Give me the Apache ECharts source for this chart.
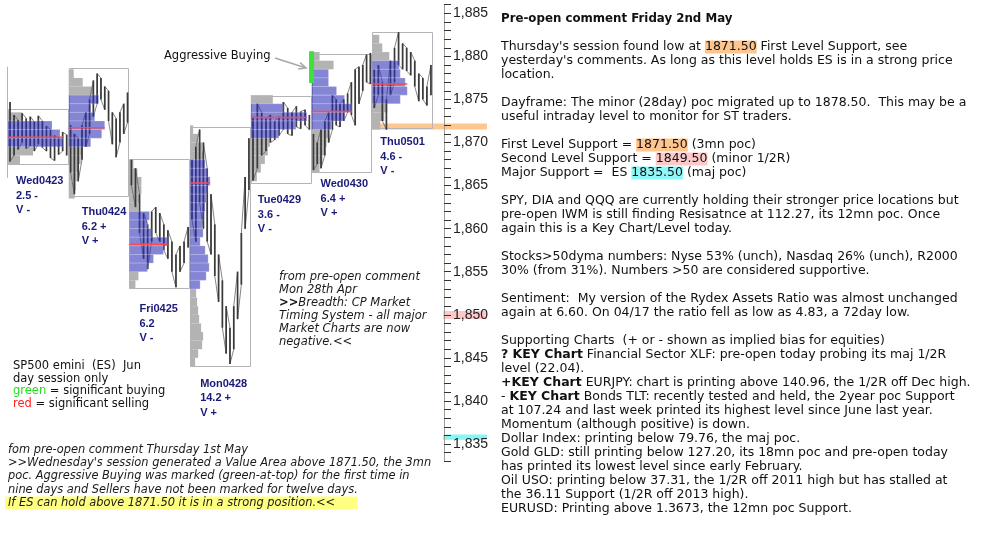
<!DOCTYPE html>
<html><head><meta charset="utf-8">
<script src="https://cdn.jsdelivr.net/npm/echarts@6/dist/echarts.min.js"></script>
<style>html,body{margin:0;padding:0;background:#fff}#c{width:984px;height:534px}</style>
</head><body><div id="c"></div>
<script>
// ---------------- DATA ----------------
const dayNames  = ['Wed0423','Thu0424','Fri0425','Mon0428','Tue0429','Wed0430','Thu0501'];
const dayRange  = ['2.5 -','6.2 +','6.2','14.2 +','3.6 -','6.4 +','4.6 -'];
const dayVol    = ['V -','V +','V -','V +','V -','V +','V -'];
const boxHigh   = [1873.9, 1878.6, 1868.1, 1871.8, 1875.4, 1880.3, 1882.8];
const boxLow    = [1867.5, 1863.8, 1853.1, 1844.1, 1865.3, 1866.6, 1871.7];
const prevDayHigh = 1878.8, prevDayLow = 1865.9;
const vaHigh    = [1872.5, 1875.5, 1861.6, 1867.6, 1874.1, 1878.0, 1879.6];
const vaLow     = [1869.5, 1869.5, 1855.2, 1853.4, 1870.7, 1871.7, 1874.9];
const pocPrice  = [1870.6, 1871.7, 1858.2, 1865.3, 1872.9, 1873.6, 1876.8];
const profTop   = [1873.5, 1878.5, 1868.0, 1872.0, 1875.5, 1880.5, 1882.5];
const profWidths = [
  [14, 44, 52, 55, 25, 12],
  [5, 14, 24, 30, 22, 26, 36, 33, 22, 14, 12, 10, 8, 7, 6],
  [4, 8, 12, 12, 10, 9, 20, 18, 22, 38, 34, 24, 18, 9, 6],
  [3, 8, 12, 14, 15, 17, 20, 17, 16, 15, 14, 12, 13, 10, 15, 18, 19, 16, 10, 6, 7, 8, 9, 11, 13, 12, 8, 5],
  [22, 32, 56, 45, 28, 19, 17, 14, 10, 6],
  [8, 22, 17, 17, 25, 33, 40, 33, 20, 17, 15, 13, 11, 8],
  [7, 10, 17, 27, 28, 33, 35, 28, 15, 12, 8]
];
const priceBars = [
  [[1874.7,1867.8],[1873.2,1868.5],[1872.6,1869.2],[1873.4,1870.0],[1872.8,1869.3],[1873.0,1869.6],[1872.4,1869.0],[1873.1,1869.8],[1872.5,1869.4],[1871.9,1869.0],[1871.5,1868.2],[1870.8,1867.9],[1870.5,1868.6],[1871.2,1869.0],[1870.9,1868.5]],
  [[1872.0,1866.5],[1871.0,1864.0],[1870.5,1865.5],[1872.0,1868.0],[1873.5,1869.5],[1875.0,1871.0],[1877.2,1873.0],[1878.0,1874.5],[1877.5,1875.0],[1876.5,1873.8],[1876.0,1872.5],[1873.5,1869.8],[1872.8,1868.3],[1873.5,1870.0],[1874.5,1871.0],[1875.8,1872.3]],
  [[1868.0,1865.0],[1867.0,1862.5],[1864.0,1859.5],[1861.8,1856.5],[1860.5,1855.3],[1862.0,1858.5],[1862.5,1859.5],[1861.8,1858.5],[1860.5,1857.5],[1859.8,1856.5],[1858.5,1855.0],[1857.0,1853.2],[1858.0,1855.0],[1858.5,1856.0],[1860.2,1857.8]],
  [[1868.0,1861.0],[1869.5,1858.5],[1871.5,1863.0],[1870.0,1860.0],[1867.0,1858.5],[1864.0,1857.0],[1860.5,1854.5],[1857.0,1851.5],[1854.0,1848.5],[1851.0,1845.5],[1848.5,1844.3],[1851.0,1846.0],[1855.0,1849.5],[1859.5,1853.5],[1866.0,1860.0],[1870.5,1864.5]],
  [[1873.0,1865.6],[1874.5,1867.0],[1873.5,1868.5],[1872.8,1869.0],[1873.2,1870.0],[1872.5,1870.3],[1873.0,1870.8],[1874.7,1871.5],[1874.0,1871.0],[1873.5,1870.8],[1874.2,1871.8],[1873.6,1871.6],[1873.8,1872.0],[1873.2,1871.5]],
  [[1871.0,1866.8],[1870.0,1867.5],[1871.5,1867.0],[1872.5,1868.5],[1873.5,1870.0],[1875.5,1871.5],[1875.0,1872.0],[1874.5,1871.8],[1875.0,1872.5],[1875.7,1873.5],[1877.0,1873.2],[1878.5,1872.0],[1878.8,1874.5],[1879.0,1876.0],[1880.2,1877.0],[1880.4,1876.8]],
  [[1878.5,1874.0],[1879.0,1875.5],[1877.0,1872.5],[1875.0,1871.5],[1879.5,1875.5],[1881.0,1877.0],[1882.8,1879.0],[1881.5,1878.5],[1881.0,1878.3],[1880.5,1877.8],[1879.5,1876.5],[1878.0,1874.8],[1877.5,1875.0],[1876.5,1874.3],[1879.0,1875.5]]
];
const aggressiveBuying = [[5, 1880.6, 1876.9]];       // [day index, high, low]
const supportLow  = [1871.5, 1849.5, 1835.5];
const supportHigh = [1872.2, 1850.45, 1836.1];
const yMin = 1833, yMax = 1886, yInterval = 1, yLabelStep = 5;

const rightTitle = 'Pre-open comment Friday 2nd May';
const rightText = [
"Thursday's session found low at {o|1871.50} First Level Support, see",
"yesterday's comments. As long as this level holds ES is in a strong price",
"location.",
"",
"Dayframe: The minor (28day) poc migrated up to 1878.50.  This may be a",
"useful intraday level to monitor for ST traders.",
"",
"First Level Support = {o|1871.50} (3mn poc)",
"Second Level Support = {p|1849.50} (minor 1/2R)",
"Major Support =  ES {c|1835.50} (maj poc)",
"",
"SPY, DIA and QQQ are currently holding their stronger price locations but",
"pre-open IWM is still finding Resisatnce at 112.27, its 12mn poc. Once",
"again this is a Key Chart/Level today.",
"",
"Stocks>50dyma numbers: Nyse 53% (unch), Nasdaq 26% (unch), R2000",
"30% (from 31%). Numbers >50 are considered supportive.",
"",
"Sentiment:  My version of the Rydex Assets Ratio was almost unchanged",
"again at 6.60. On 04/17 the ratio fell as low as 4.83, a 72day low.",
"",
"Supporting Charts  (+ or - shown as implied bias for equities)",
"{b|? KEY Chart} Financial Sector XLF: pre-open today probing its maj 1/2R",
"level (22.04).",
"{b|+KEY Chart} EURJPY: chart is printing above 140.96, the 1/2R off Dec high.",
"- {b|KEY Chart} Bonds TLT: recently tested and held, the 2year poc Support",
"at 107.24 and last week printed its highest level since June last year.",
"Momentum (although positive) is down.",
"Dollar Index: printing below 79.76, the maj poc.",
"Gold GLD: still printing below 127.20, its 18mn poc and pre-open today",
"has printed its lowest level since early February.",
"Oil USO: printing below 37.31, the 1/2R off 2011 high but has stalled at",
"the 36.11 Support (1/2R off 2013 high).",
"EURUSD: Printing above 1.3673, the 12mn poc Support."
];
const bottomNote = [
"fom pre-open comment Thursday 1st May",
">>Wednesday's session generated a Value Area above 1871.50, the 3mn",
"poc. Aggressive Buying was marked (green-at-top) for the first time in",
"nine days and Sellers have not been marked for twelve days.",
"{y|If ES can hold above 1871.50 it is in a strong position.<<}"
];
const middleNote = [
"from pre-open comment",
"Mon 28th Apr",
"{bb|>>}Breadth: CP Market",
"Timing System - all major",
"Market Charts are now",
"negative.<<"
];
const legendText = [
"SP500 emini  (ES)  Jun",
"day session only",
"{g|green} = significant buying",
"{r|red} = significant selling"
];
const annotationText = 'Aggressive Buying';

// ---------------- LAYOUT ----------------
const PX_PER_DAY = 60.71, DAY0_PX = 8, AXIS_PX = 444, BAND_END_PX = 487;
const PX_PER_PT = 8.614, PX_1885 = 13.3;
const X_MIN = -DAY0_PX / PX_PER_DAY;
const X_MAX = (AXIS_PX - DAY0_PX) / PX_PER_DAY;
const X_BAND_END = (BAND_END_PX - DAY0_PX) / PX_PER_DAY;
const GRID_TOP = PX_1885 - (yMax - 1885) * PX_PER_PT;
const GRID_H = (yMax - yMin) * PX_PER_PT;
const LABEL_DX = [8, 13, 10, 10, 7, 9, 8];
const LABEL_DY = [10, 9, 14, 11, 10, 5, 7];
const BAND_COLORS = ['#ffc690', '#ffc8c8', '#88f6f6'];
const DEJAVU = 'DejaVu Sans';

// derived series data
const bandData = supportLow.map((lo, i) => [i === 0 ? 6 : X_MAX - 0.015, lo, supportHigh[i], i]);
const boxData = dayNames.map((n, i) => [i, boxHigh[i], boxLow[i]]);
const grayData = [], blueData = [];
profWidths.forEach((ws, d) => {
  ws.forEach((w, k) => {
    const hi = profTop[d] - k, lo = hi - 1, mid = hi - 0.5;
    const item = [d, hi, lo, w];
    if (mid <= vaHigh[d] && mid >= vaLow[d]) blueData.push(item); else grayData.push(item);
  });
});
const barData = [];
priceBars.forEach((bs, d) => bs.forEach((b, j) => barData.push([d + (j + 0.5) / bs.length, b[0], b[1]])));
const pocData = pocPrice.map((p, d) => [d, p, Math.max.apply(null, profWidths[d])]);
const labelData = dayNames.map((n, i) => [i, boxLow[i]]);
const pathData = dayNames.map((n, i) => [i, boxHigh[i]]);

function profRect(api, fill, stroke) {
  const d = api.value(0);
  const a = api.coord([d, api.value(1)]);
  const b = api.coord([d + api.value(3) / PX_PER_DAY, api.value(2)]);
  return {type: 'rect', shape: {x: a[0], y: a[1], width: b[0] - a[0], height: b[1] - a[1]},
          style: {fill: fill, stroke: stroke, lineWidth: stroke ? 1 : 0}};
}

const option = {
  animation: false,
  backgroundColor: '#ffffff',
  grid: {left: 0, top: GRID_TOP, width: AXIS_PX, height: GRID_H, containLabel: false},
  xAxis: {type: 'value', min: X_MIN, max: X_MAX, show: false},
  yAxis: {
    type: 'value', position: 'right',
    min: yMin, max: yMax, interval: yInterval, z: 10,
    axisLine: {show: true, onZero: false, lineStyle: {color: '#a09c96', width: 1}},
    axisTick: {show: true, length: 7, lineStyle: {color: '#333'}},
    axisLabel: {show: true, margin: 9, color: '#222', fontFamily: 'Liberation Sans', fontSize: 14,
      formatter: v => (Math.round(v) % yLabelStep === 0 ? Math.round(v).toLocaleString('en-US') : '')},
    splitLine: {show: false}
  },
  series: [
    {type: 'custom', name: 'bands', z: 1, clip: false, data: bandData, renderItem: (p, api) => {
      const a = api.coord([api.value(0), api.value(2)]);
      const b = api.coord([X_BAND_END, api.value(1)]);
      return {type: 'rect', shape: {x: a[0], y: a[1], width: b[0] - a[0], height: b[1] - a[1]},
              style: {fill: BAND_COLORS[api.value(3)]}};
    }},
    {type: 'custom', name: 'prevEdge', z: 3, data: [[0, prevDayHigh, prevDayLow]], renderItem: (p, api) => {
      const a = api.coord([api.value(0), api.value(1)]);
      const b = api.coord([api.value(0), api.value(2)]);
      const x = Math.round(a[0]) - 0.5;
      return {type: 'line', shape: {x1: x, y1: a[1], x2: x, y2: b[1]}, style: {stroke: '#b4b4b4', lineWidth: 1}};
    }},
    {type: 'custom', name: 'gray', z: 2, data: grayData, renderItem: (p, api) => profRect(api, '#b3b3b3', null)},
    {type: 'custom', name: 'boxes', z: 3, data: boxData, renderItem: (p, api) => {
      const d = api.value(0);
      const a = api.coord([d, api.value(1)]);
      const b = api.coord([d + 1, api.value(2)]);
      const x1 = Math.round(a[0]) + 0.5, y1 = Math.round(a[1]) + 0.5, x2 = Math.round(b[0]) - 0.5, y2 = Math.round(b[1]) + 0.5;
      return {type: 'rect', shape: {x: x1, y: y1, width: x2 - x1, height: y2 - y1},
              style: {fill: null, stroke: '#b4b4b4', lineWidth: 1}};
    }},
    {type: 'custom', name: 'barPath', z: 4, data: pathData, renderItem: (p, api) => {
      const d = api.value(0);
      const bs = priceBars[d];
      const pts = [];
      bs.forEach((b, j) => {
        const x = d + (j + 0.5) / bs.length;
        const first = j % 2 ? b[1] : b[0], second = j % 2 ? b[0] : b[1];
        pts.push(api.coord([x, first]));
        pts.push(api.coord([x, second]));
      });
      return {type: 'polyline', shape: {points: pts}, style: {stroke: '#666', lineWidth: 0.8, fill: null}};
    }},
    {type: 'custom', name: 'bars', z: 4, data: barData, renderItem: (p, api) => {
      const a = api.coord([api.value(0), api.value(1)]);
      const b = api.coord([api.value(0), api.value(2)]);
      return {type: 'line', shape: {x1: a[0], y1: a[1], x2: b[0], y2: b[1]}, style: {stroke: '#3a3a3a', lineWidth: 1.7}};
    }},
    {type: 'custom', name: 'va', z: 5, data: blueData, renderItem: (p, api) => profRect(api, 'rgba(45,45,185,0.58)', 'rgba(255,255,255,0.18)')},
    {type: 'custom', name: 'poc', z: 6, data: pocData, renderItem: (p, api) => {
      const d = api.value(0);
      const a = api.coord([d, api.value(1)]);
      const b = api.coord([d + api.value(2) / PX_PER_DAY, api.value(1)]);
      return {type: 'line', shape: {x1: a[0], y1: a[1], x2: b[0], y2: b[1]}, style: {stroke: '#ff4a4a', lineWidth: 1.5}};
    }},
    {type: 'custom', name: 'aggr', z: 6, data: aggressiveBuying, renderItem: (p, api) => {
      const a = api.coord([api.value(0), api.value(1)]);
      const b = api.coord([api.value(0), api.value(2)]);
      return {type: 'rect', shape: {x: a[0] - 2.5, y: a[1], width: 5, height: b[1] - a[1]}, style: {fill: '#3ee03e'}};
    }},
    {type: 'custom', name: 'labels', z: 7, data: labelData, renderItem: (p, api) => {
      const i = api.value(0);
      const a = api.coord([i, api.value(1)]);
      return {type: 'text', x: a[0] + LABEL_DX[i], y: a[1] + LABEL_DY[i],
        style: {text: dayNames[i] + '\n' + dayRange[i] + '\n' + dayVol[i], fill: '#1a1a78',
                fontFamily: 'Liberation Sans', fontWeight: 'bold', fontSize: 11, lineHeight: 14.5}};
    }}
  ],
  graphic: {elements: []}
};

// ---- text blocks ----
const G = option.graphic.elements;
function richBase(size, style) {
  return {fontFamily: DEJAVU, fontSize: size, fontStyle: style || 'normal'};
}
G.push({type: 'text', x: 501, y: 19, style: {text: rightTitle, fontFamily: DEJAVU, fontSize: 11.8, fontWeight: 'bold', fill: '#111', verticalAlign: 'middle'}});
const RS = 12.5;
rightText.forEach((t, i) => {
  if (!t) return;
  G.push({type: 'text', x: 501, y: 47 + 14 * i, style: {
    text: t, fontFamily: DEJAVU, fontSize: RS, fill: '#111', verticalAlign: 'middle',
    rich: {
      o: Object.assign(richBase(RS), {backgroundColor: '#ffc58e', lineHeight: 14}),
      p: Object.assign(richBase(RS), {backgroundColor: '#fdc9c9', lineHeight: 14}),
      c: Object.assign(richBase(RS), {backgroundColor: '#8ef8f8', lineHeight: 14}),
      b: Object.assign(richBase(RS), {fontWeight: 'bold'})
    }}});
});
const IS = 11.4;
bottomNote.forEach((t, i) => {
  const hl = t.indexOf('{y|') === 0;
  G.push({type: 'text', x: hl ? 5 : 8, y: 450 + 13.25 * i, style: {
    text: t, fontFamily: DEJAVU, fontSize: IS, fontStyle: 'italic', fill: '#1a1a1a', verticalAlign: 'middle',
    rich: {y: Object.assign(richBase(IS, 'italic'), {backgroundColor: '#ffff80', fill: '#1a1a1a', padding: [1, 22, 1, 3], lineHeight: 14})}}});
});
middleNote.forEach((t, i) => {
  G.push({type: 'text', x: 279, y: 277 + 13 * i, style: {
    text: t, fontFamily: DEJAVU, fontSize: 11.5, fontStyle: 'italic', fill: '#1a1a1a', verticalAlign: 'middle',
    rich: {bb: Object.assign(richBase(11.5, 'italic'), {fontWeight: 'bold', fill: '#1a1a1a'})}}});
});
legendText.forEach((t, i) => {
  G.push({type: 'text', x: 13, y: 366 + 12.7 * i, style: {
    text: t, fontFamily: DEJAVU, fontSize: 11.5, fill: '#111', verticalAlign: 'middle',
    rich: {g: Object.assign(richBase(11.5), {fill: '#22dd22'}), r: Object.assign(richBase(11.5), {fill: '#ff1f1f'})}}});
});
G.push({type: 'text', x: 164, y: 56, style: {text: annotationText, fontFamily: DEJAVU, fontSize: 11.5, fill: '#111', verticalAlign: 'middle'}});
G.push({type: 'line', shape: {x1: 275, y1: 58, x2: 306, y2: 68}, style: {stroke: '#a8a8a8', lineWidth: 1.5}});
G.push({type: 'polyline', shape: {points: [[300.1, 62.6], [306, 68], [298.1, 69]]}, style: {stroke: '#a8a8a8', lineWidth: 1.5, fill: null}});

const chart = echarts.init(document.getElementById('c'), null, {renderer: 'canvas'});
chart.setOption(option);
</script></body></html>
